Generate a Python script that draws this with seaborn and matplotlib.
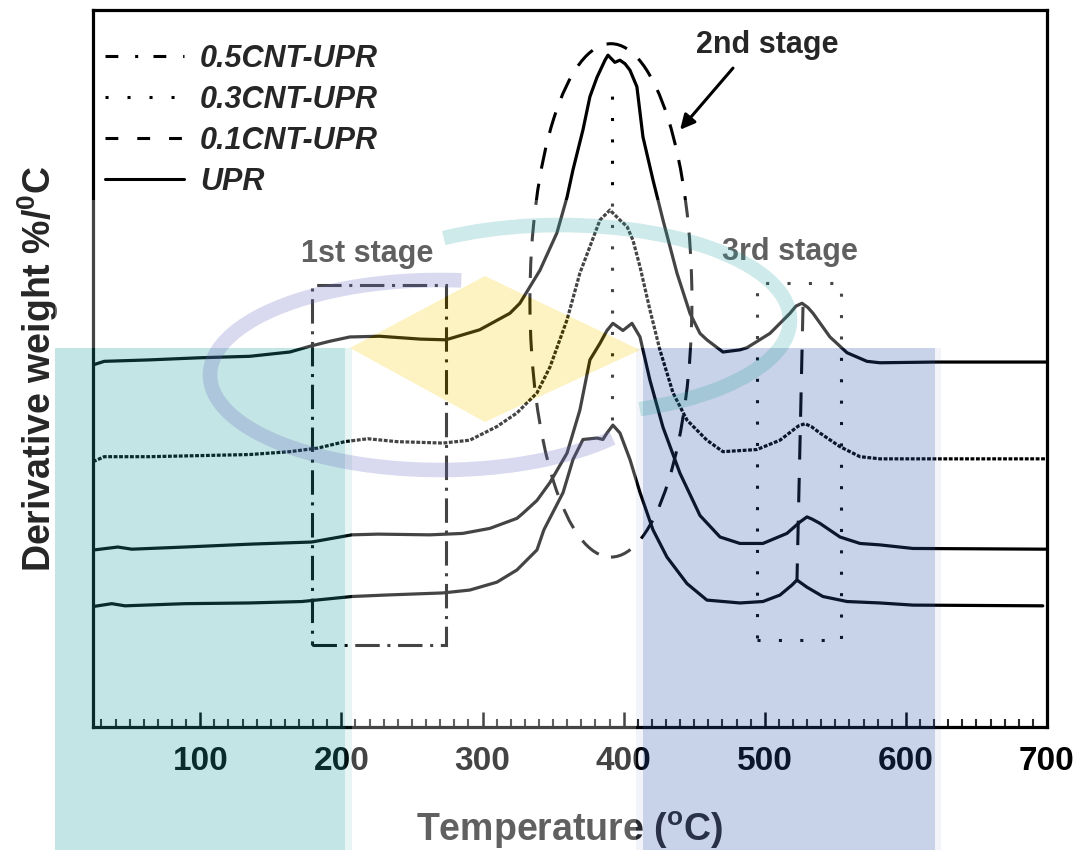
import numpy as np
import pandas as pd
import matplotlib
matplotlib.use("Agg")
import matplotlib.pyplot as plt
import seaborn as sns
from matplotlib.lines import Line2D
from matplotlib import patches
from matplotlib.path import Path

# ---------------------------------------------------------------------------
# DTG traces: temperature (°C) and derivative weight relative to each
# trace's own flat end baseline (arbitrary %/°C units); traces are stacked
# with the vertical offsets below.
# ---------------------------------------------------------------------------
temp_05 = [24, 32, 64, 100, 135, 163.5, 177.7, 191.8, 206, 227, 256, 274, 298,
           319.4, 326.5, 333.6, 340.7, 352.7, 359.9, 364.1, 371.2, 376.1, 381.1,
           386.8, 388.9, 393.8, 397.4, 401, 404.5, 409.4, 413.7, 420.8, 427.9,
           437.8, 447, 454.1, 459, 470.4, 482.4, 487.4, 503.7, 517.9, 522.1,
           526.4, 530.6, 534.2, 546.2, 558.3, 572.4, 581.6, 620, 660, 700]
dtg_05 = [-0.4, 0.1, 0.3, 0.6, 0.8, 1.4, 2.2, 2.9, 3.5, 3.6, 3.2, 3.1, 4.5,
          6.8, 8.2, 10.5, 12.8, 18.0, 23.0, 26.8, 32.4, 37.0, 39.7,
          42.1, 42.8, 41.8, 42.1, 41.6, 40.7, 38.4, 31.4, 25.4, 19.8,
          12.4, 6.8, 4.0, 3.1, 1.4, 1.7, 2.0, 4.0, 6.8, 7.8,
          8.2, 7.6, 6.8, 3.5, 1.3, 0.1, -0.1, 0, 0, 0]

temp_03 = [24, 32, 64, 135, 163.5, 183.3, 202.5, 218.8, 239.3, 272, 291, 310.2,
           324.4, 338.6, 347.8, 359.9, 369, 376.1, 383.2, 390.3, 397.4, 402.4,
           406.6, 411.6, 418.6, 425.7, 435, 444.9, 459, 470.4, 494.5, 510.8,
           520, 524, 528.5, 533, 539.1, 553.3, 567.5, 581.6, 640, 700]
dtg_03 = [-0.4, 0.3, 0.3, 0.6, 1.0, 1.5, 2.4, 2.8, 2.4, 2.2, 2.6, 4.5,
          6.4, 9.2, 12.8, 19.4, 25.9, 29.6, 33.3, 34.7, 33.3, 32.4,
          30.5, 26.8, 20.8, 15.2, 9.2, 5.4, 2.6, 1.0, 1.3, 2.6,
          4.0, 4.6, 4.9, 4.5, 3.6, 1.7, 0.3, 0, 0, 0]

temp_01 = [25, 41.6, 51.5, 89, 135, 179, 207.4, 225.9, 262.7, 286, 305.2, 324.4,
           328.6, 338.6, 347.8, 359.9, 369, 376.1, 383.2, 388.2, 392.4, 399.5,
           405.9, 411.6, 418.6, 427.9, 439.9, 454.1, 468.3, 482.4, 498.7, 515.7,
           525, 529.9, 533.5, 539.1, 553.3, 567.5, 581.6, 605, 700]
dtg_01 = [-0.1, 0.3, 0, 0.3, 0.7, 1.0, 2.0, 2.1, 2.0, 2.2, 2.9, 4.3,
          5.0, 6.8, 9.3, 13.4, 19.4, 26.4, 28.7, 30.5, 31.5, 30.5,
          31.5, 29.6, 23.6, 17.0, 10.6, 4.7, 1.7, 0.8, 0.8, 2.2,
          3.8, 4.5, 4.2, 3.6, 1.7, 0.8, 0.6, 0.1, 0]

temp_upr = [24, 37.3, 46.7, 89, 135, 172, 207.4, 230.8, 272, 291, 310.2, 324.4,
            338.6, 343.5, 357.1, 364.1, 371.2, 381.1, 385.3, 388.2, 392.4, 397.4,
            404.5, 411.6, 420.8, 430.7, 444.9, 459, 482.4, 498.7, 510.8, 519.3,
            522.8, 529.9, 541.2, 558.3, 581.6, 605, 697]
dtg_upr = [-0.1, 0.3, 0, 0.3, 0.4, 0.6, 1.3, 1.5, 1.8, 2.2, 3.3, 5.0,
           7.8, 10.6, 15.8, 20.4, 23.2, 23.4, 23.2, 24.1, 25.2, 24.1,
           20.4, 15.8, 10.6, 6.8, 3.1, 0.8, 0.4, 0.6, 1.5, 2.9,
           3.6, 2.6, 1.3, 0.6, 0.4, 0.1, 0]

sample_labels = ["0.5CNT-UPR", "0.3CNT-UPR", "0.1CNT-UPR", "UPR"]
stack_offsets = [50.9, 37.4, 24.8, 16.9]
x_ticks = [100, 200, 300, 400, 500, 600, 700]
stage_labels = ["1st stage", "2nd stage", "3rd stage"]

# ---------------------------------------------------------------------------
sns.set_theme(style="white")
plt.rcParams["font.family"] = ["Liberation Sans", "DejaVu Sans"]
plt.rcParams["mathtext.fontset"] = "custom"
plt.rcParams["mathtext.rm"] = "Liberation Sans:bold"
plt.rcParams["mathtext.bf"] = "Liberation Sans:bold"
plt.rcParams["mathtext.it"] = "Liberation Sans:bold:italic"

W, H = 1086, 850
fig = plt.figure(figsize=(W / 100, H / 100), dpi=100)
fig.patch.set_facecolor("white")
ax = fig.add_axes([93 / W, (H - 727) / H, 954 / W, 717 / H])
ax.set_facecolor("white")

series = [(temp_05, dtg_05), (temp_03, dtg_03), (temp_01, dtg_01), (temp_upr, dtg_upr)]
frames = []
for lab, off, (t, d) in zip(sample_labels, stack_offsets, series):
    frames.append(pd.DataFrame({"temperature": t,
                                "signal": np.asarray(d) + off,
                                "sample": lab}))
df = pd.concat(frames, ignore_index=True)

trace_styles = {"0.5CNT-UPR": "-", "0.3CNT-UPR": (0, (1.2, 0.5)),
                "0.1CNT-UPR": "-", "UPR": "-"}
for lab in sample_labels:
    sns.lineplot(data=df[df["sample"] == lab], x="temperature", y="signal",
                 ax=ax, color="black", lw=2.3, linestyle=trace_styles[lab],
                 estimator=None, sort=False, legend=False,
                 solid_joinstyle="round", solid_capstyle="round")

ax.set_xlim(24, 700)
ax.set_ylim(0, 100)
ax.set_xticks(x_ticks)
ax.set_xticks(np.arange(30, 700, 10), minor=True)
ax.set_yticks([])
ax.tick_params(axis="x", which="major", direction="in", length=11, width=1.8,
               labelsize=24, pad=14, colors="black", bottom=True, top=False)
ax.tick_params(axis="x", which="minor", direction="in", length=6, width=1.5,
               bottom=True, top=False)
for lbl in ax.get_xticklabels():
    lbl.set_fontweight("bold")
for sp in ax.spines.values():
    sp.set_visible(True)
    sp.set_color("black")
    sp.set_linewidth(2.3)

ax.set_xlabel("Temperature ($^{\\mathrm{o}}$C)", fontsize=27, fontweight="bold",
              labelpad=23)
ax.set_ylabel("Derivative weight %/$^{\\mathrm{0}}$C", fontsize=27,
              fontweight="bold", labelpad=23)

# stage markers
ax.add_patch(patches.Rectangle((179, 11.4), 95, 50.2, fill=False, ec="black",
                               lw=2.2, ls=(0, (8, 2.5, 1, 2.5)), zorder=3))
ax.add_patch(patches.Ellipse((391, 59.5), 114.8, 71.6, fill=False, ec="black",
                             lw=2.2, ls=(0, (7, 5)), zorder=3))
ax.add_patch(patches.Rectangle((494.5, 12.1), 59.5, 49.8, fill=False, ec="black",
                               lw=2.2, ls=(0, (1, 6)), zorder=3))
ax.plot([391.5, 391.5], [42.8, 90.2], color="black", lw=2.2, ls=(0, (1, 6)))
ax.plot([527.1, 522.8], [58.6, 20.2], color="black", lw=2.2, ls=(0, (8, 6)))
ax.annotate("", xy=(440, 83.3), xytext=(477.5, 91.9),
            arrowprops=dict(arrowstyle="-|>", lw=2.2, color="black",
                            mutation_scale=22, shrinkA=0, shrinkB=0))
ax.text(218.1, 64.9, stage_labels[0], fontsize=22, fontweight="bold",
        ha="center", va="baseline")
ax.text(501.6, 94.0, stage_labels[1], fontsize=22, fontweight="bold",
        ha="center", va="baseline")
ax.text(517.9, 65.1, stage_labels[2], fontsize=22, fontweight="bold",
        ha="center", va="baseline")

# legend keyed by line style
legend_styles = [(0, (4.2, 5.5, 1, 5)), (0, (1, 6.2)), (0, (4.2, 6.2)), "-"]
handles = [Line2D([], [], color="black", lw=2.2, ls=s) for s in legend_styles]
ax.legend(handles, sample_labels, loc="upper left",
          bbox_to_anchor=(0.0126, 0.953), frameon=False, borderpad=0,
          borderaxespad=0, handlelength=2.6, handletextpad=0.5,
          labelspacing=0.36,
          prop={"family": "Liberation Sans", "weight": "bold",
                "style": "italic", "size": 22})

# ---------------------------------------------------------------------------
# semi-transparent logo overlay (figure pixel coordinates, origin top-left)
# ---------------------------------------------------------------------------
def fx(x):
    return x / W


def fy(y):
    return 1 - y / H


def px_rect(x0, y0, x1, y1, color, alpha, z):
    r = patches.Rectangle((fx(x0), fy(y1)), fx(x1) - fx(x0), fy(y0) - fy(y1),
                          transform=fig.transFigure, fc=color, ec="none",
                          alpha=alpha, zorder=z)
    fig.add_artist(r)


teal = (37 / 255, 160 / 255, 160 / 255)
navy = (46 / 255, 82 / 255, 168 / 255)
gold = (250 / 255, 210 / 255, 30 / 255)
lilac = (100 / 255, 100 / 255, 190 / 255)

# white haze with a diamond-shaped hole
outer = [(55, 200), (941, 200), (941, 348), (636, 348), (636, 850), (352, 850),
         (352, 348), (55, 348)]
diamond = [(350, 348), (485, 276), (640, 350), (485, 422)]
verts, codes = [], []
for ring, rev in ((outer, False), (diamond, True)):
    pts = ring[::-1] if rev else ring
    pts = [(fx(x), fy(y)) for x, y in pts]
    verts += pts + [pts[0]]
    codes += [Path.MOVETO] + [Path.LINETO] * (len(pts) - 1) + [Path.CLOSEPOLY]
fig.add_artist(patches.PathPatch(Path(verts, codes), transform=fig.transFigure,
                                 fc="white", ec="none", alpha=0.27, zorder=10))

px_rect(55, 348, 345, 850, teal, 0.27, 10)
px_rect(345, 348, 352, 850, teal, 0.10, 10)
px_rect(643, 348, 935, 850, navy, 0.26, 10)
px_rect(636, 348, 643, 850, navy, 0.06, 10)
px_rect(935, 348, 941, 850, navy, 0.06, 10)

fig.add_artist(patches.Polygon([(fx(x), fy(y)) for x, y in diamond],
                               closed=True, transform=fig.transFigure,
                               fc=gold, ec="none", alpha=0.27, zorder=11))

# two swoosh arcs: (centre x, centre y, width, height, theta1, theta2)
swooshes = [((560, 320, 460, 190, -55, 138), teal, 0.22),
            ((440, 375, 460, 190, 80, 335), lilac, 0.24)]
for (cx, cy, ew, eh, th1, th2), col, a in swooshes:
    fig.add_artist(patches.Arc((fx(cx), fy(cy)), ew / W, eh / H, angle=0,
                               theta1=th1, theta2=th2, transform=fig.transFigure,
                               color=col, alpha=a, lw=10.5, zorder=12))

fig.savefig("out.png", dpi=100, facecolor="white")
